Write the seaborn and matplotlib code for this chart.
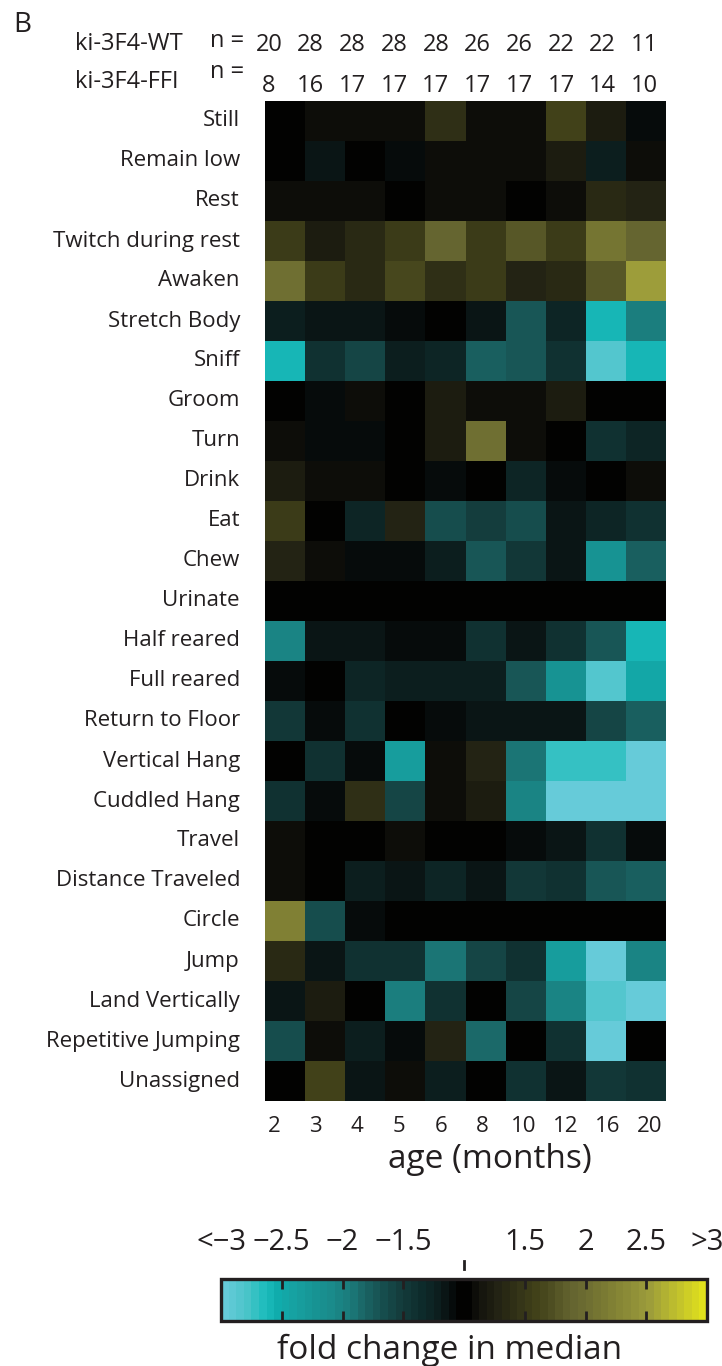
import numpy as np
import pandas as pd
import seaborn as sns
import matplotlib
matplotlib.use("Agg")
import matplotlib.pyplot as plt
from matplotlib.colors import LinearSegmentedColormap, ListedColormap
from matplotlib import transforms

# ---- data -------------------------------------------------------------
ages = [2, 3, 4, 5, 6, 8, 10, 12, 16, 20]
n_wt = [20, 28, 28, 28, 28, 26, 26, 22, 22, 11]
n_ffi = [8, 16, 17, 17, 17, 17, 17, 17, 14, 10]

behaviors = [
    "Still", "Remain low", "Rest", "Twitch during rest", "Awaken",
    "Stretch Body", "Sniff", "Groom", "Turn", "Drink", "Eat", "Chew",
    "Urinate", "Half reared", "Full reared", "Return to Floor",
    "Vertical Hang", "Cuddled Hang", "Travel", "Distance Traveled",
    "Circle", "Jump", "Land Vertically", "Repetitive Jumping", "Unassigned",
]

# fold change in median (FFI vs WT); +x = x-fold increase, -x = x-fold decrease
still = [1.0, 1.12, 1.08, 1.08, 1.42, 1.08, 1.12, 1.6, 1.2, -1.08]
remain_low = [1.0, -1.15, 1.0, -1.08, 1.12, 1.12, 1.08, 1.2, -1.25, 1.12]
rest = [1.08, 1.12, 1.12, 1.0, 1.08, 1.08, 1.0, 1.08, 1.35, 1.25]
twitch = [1.5, 1.2, 1.32, 1.5, 1.88, 1.5, 1.8, 1.5, 2.08, 1.88]
awaken = [2.0, 1.5, 1.32, 1.68, 1.42, 1.5, 1.25, 1.35, 1.8, 2.5]
stretch_body = [-1.2, -1.18, -1.18, -1.08, 1.0, -1.18, -1.7, -1.28, -2.6, -2.0]
sniff = [-2.6, -1.38, -1.6, -1.2, -1.28, -1.8, -1.7, -1.38, -2.85, -2.6]
groom = [1.0, -1.08, 1.08, 1.0, 1.2, 1.08, 1.12, 1.2, 1.0, 1.0]
turn = [1.12, -1.1, -1.08, 1.0, 1.2, 2.0, 1.08, 1.0, -1.38, -1.3]
drink = [1.2, 1.12, 1.12, 1.0, -1.1, 1.0, -1.3, -1.1, 1.0, 1.08]
eat = [1.5, 1.0, -1.3, 1.25, -1.65, -1.52, -1.65, -1.18, -1.28, -1.38]
chew = [1.25, 1.12, -1.1, -1.08, -1.2, -1.72, -1.5, -1.15, -2.2, -1.8]
urinate = [1.0, 1.0, 1.0, 1.0, 1.0, 1.0, 1.0, 1.0, 1.0, 1.0]
half_reared = [-2.05, -1.15, -1.15, -1.1, -1.1, -1.38, -1.18, -1.38, -1.7, -2.6]
full_reared = [-1.1, -1.06, -1.3, -1.2, -1.2, -1.2, -1.72, -2.2, -2.85, -2.5]
return_floor = [-1.5, -1.1, -1.38, -1.06, -1.1, -1.15, -1.18, -1.15, -1.6, -1.8]
vertical_hang = [1.0, -1.42, -1.1, -2.35, 1.08, 1.25, -1.9, -2.75, -2.7, -3.2]
cuddled_hang = [-1.38, -1.1, 1.42, -1.58, 1.12, 1.2, -2.05, -3.2, -3.2, -3.2]
travel = [1.12, 1.0, 1.0, 1.08, 1.0, 1.0, -1.1, -1.15, -1.38, -1.1]
distance = [1.12, 1.0, -1.2, -1.15, -1.28, -1.15, -1.5, -1.42, -1.7, -1.8]
circle = [2.2, -1.65, -1.08, 1.0, 1.0, 1.0, 1.0, 1.0, 1.0, 1.0]
jump = [1.35, -1.15, -1.38, -1.42, -1.9, -1.6, -1.38, -2.35, -2.95, -2.05]
land_vertically = [-1.15, 1.2, 1.0, -2.0, -1.38, 1.0, -1.6, -2.05, -2.85, -3.2]
repetitive_jumping = [-1.65, 1.12, -1.2, -1.1, 1.25, -1.85, 1.0, -1.42, -2.95, 1.0]
unassigned = [1.0, 1.6, -1.15, 1.08, -1.2, 1.0, -1.4, -1.15, -1.5, -1.42]

rows = [still, remain_low, rest, twitch, awaken, stretch_body, sniff, groom,
        turn, drink, eat, chew, urinate, half_reared, full_reared,
        return_floor, vertical_hang, cuddled_hang, travel, distance, circle,
        jump, land_vertically, repetitive_jumping, unassigned]

cbar_tick_labels = ["<\u22123", "\u22122.5", "\u22122", "\u22121.5",
                    "1.5", "2", "2.5", ">3"]

fold = pd.DataFrame(rows, index=behaviors, columns=ages)


def fold_to_scale(fc):
    """Map signed fold change onto a linear colour scale with no gap at +/-1."""
    fc = np.asarray(fc, dtype=float)
    s = np.where(fc >= 1, 2 * (fc - 1), 2 * (fc + 1))
    return np.clip(s, -4, 4)


scaled = pd.DataFrame(fold_to_scale(fold.values), index=behaviors, columns=ages)

# ---- colour map: cyan (decrease) - black - yellow (increase) ----------
anchors = [
    (-4.0, "#6ecede"), (-3.7, "#5ac8d2"), (-3.5, "#48c4c8"), (-3.2, "#1bbcbc"),
    (-3.0, "#10acac"), (-2.7, "#17a0a0"), (-2.4, "#179494"), (-2.1, "#1a8a8a"),
    (-1.8, "#1b7a7a"), (-1.6, "#1b6868"), (-1.4, "#185858"), (-1.2, "#164a4a"),
    (-1.0, "#143e3e"), (-0.75, "#103232"), (-0.55, "#0c2828"), (-0.4, "#0e2020"),
    (-0.3, "#0a1a1a"), (-0.2, "#0a1212"), (-0.1, "#060a0a"), (0.0, "#000000"),
    (0.1, "#0a0a07"), (0.15, "#0e0e0a"), (0.25, "#15150e"), (0.4, "#1c1c10"),
    (0.5, "#222214"), (0.7, "#2c2c14"), (0.85, "#333318"), (1.0, "#3a3a18"),
    (1.2, "#44441a"), (1.35, "#4b4b20"), (1.6, "#5c5c2a"), (1.75, "#646430"),
    (2.0, "#6e6e32"), (2.15, "#757532"), (2.4, "#808034"), (3.0, "#9b9b3b"),
    (3.5, "#c2c22c"), (4.0, "#e8e818"),
]
smooth = LinearSegmentedColormap.from_list(
    "cyan_black_yellow", [((v + 4) / 8, c) for v, c in anchors])
n_levels = 64
edges = np.linspace(-4, 4, n_levels + 1)
samples = np.where(edges[:-1] >= 0, edges[:-1], edges[1:])
cmap = ListedColormap(smooth((samples + 4) / 8))

# ---- figure -----------------------------------------------------------
W, H = 722, 1366
ink = "#231f20"
plt.rcParams["font.family"] = ["Open Sans", "DejaVu Sans"]
plt.rcParams["text.color"] = ink

fig = plt.figure(figsize=(W / 100, H / 100), dpi=100)
ax = fig.add_axes([265 / W, 1 - 1101 / H, 401 / W, 1000 / H])
cax = fig.add_axes([221 / W, 1 - 1321 / H, 486 / W, 42 / H])

sns.heatmap(scaled, ax=ax, cmap=cmap, vmin=-4, vmax=4, cbar=True,
            cbar_ax=cax, cbar_kws={"orientation": "horizontal"},
            xticklabels=ages, yticklabels=behaviors)

# age labels are spread a little wider than the cell grid
label_x = 0.22 + 1.04 * np.arange(len(ages))
ax.set_xticks(label_x)
ax.set_xticklabels([str(a) for a in ages])

ax.tick_params(axis="y", length=0, pad=18, labelsize=16, labelcolor=ink,
               labelrotation=0)
ax.tick_params(axis="x", length=0, pad=11, labelsize=16, labelcolor=ink,
               labelrotation=0)
for lab in ax.get_yticklabels():
    lab.set_horizontalalignment("right")

fig.text(490 / W, 1 - 1160 / H, "age (months)", ha="center", va="center",
         fontsize=24, color=ink)

# group sizes above each age column
tx = transforms.blended_transform_factory(ax.transData, fig.transFigure)
head_x = 0.1 + 1.04 * np.arange(len(ages))
for x, a, b in zip(head_x, n_wt, n_ffi):
    ax.text(x, 1 - 51 / H, str(a), transform=tx, ha="center",
            va="baseline", fontsize=17, color=ink)
    ax.text(x, 1 - 92 / H, str(b), transform=tx, ha="center",
            va="baseline", fontsize=17, color=ink)
fig.text(75 / W, 1 - 50 / H, "ki-3F4-WT", ha="left", va="baseline",
         fontsize=17, color=ink)
fig.text(75 / W, 1 - 88 / H, "ki-3F4-FFI", ha="left", va="baseline",
         fontsize=17, color=ink)
fig.text(210 / W, 1 - 47 / H, "n =", ha="left", va="baseline",
         fontsize=17, color=ink)
fig.text(210 / W, 1 - 78 / H, "n =", ha="left", va="baseline",
         fontsize=17, color=ink)
fig.text(13 / W, 1 - 32 / H, "B", ha="left", va="baseline",
         fontsize=20, color=ink)

# colour bar
cbar = ax.collections[0].colorbar
cbar.outline.set_linewidth(2.4)
cbar.outline.set_edgecolor(ink)
cbar.set_ticks([-4, -3, -2, -1, 1, 2, 3, 4])
cbar.set_ticklabels(cbar_tick_labels)
cax.xaxis.set_ticks_position("both")
cax.tick_params(axis="x", direction="in", length=7, width=2, color=ink,
                labeltop=True, labelbottom=False, labelsize=21,
                labelcolor=ink, pad=16)
cax.axvline(0, ymin=1.24, ymax=1.43, color=ink, lw=2, clip_on=False)
fig.text(450 / W, 1 - 1350 / H, "fold change in median", ha="center",
         va="center", fontsize=24, color=ink)

fig.savefig("out.png", dpi=100)
